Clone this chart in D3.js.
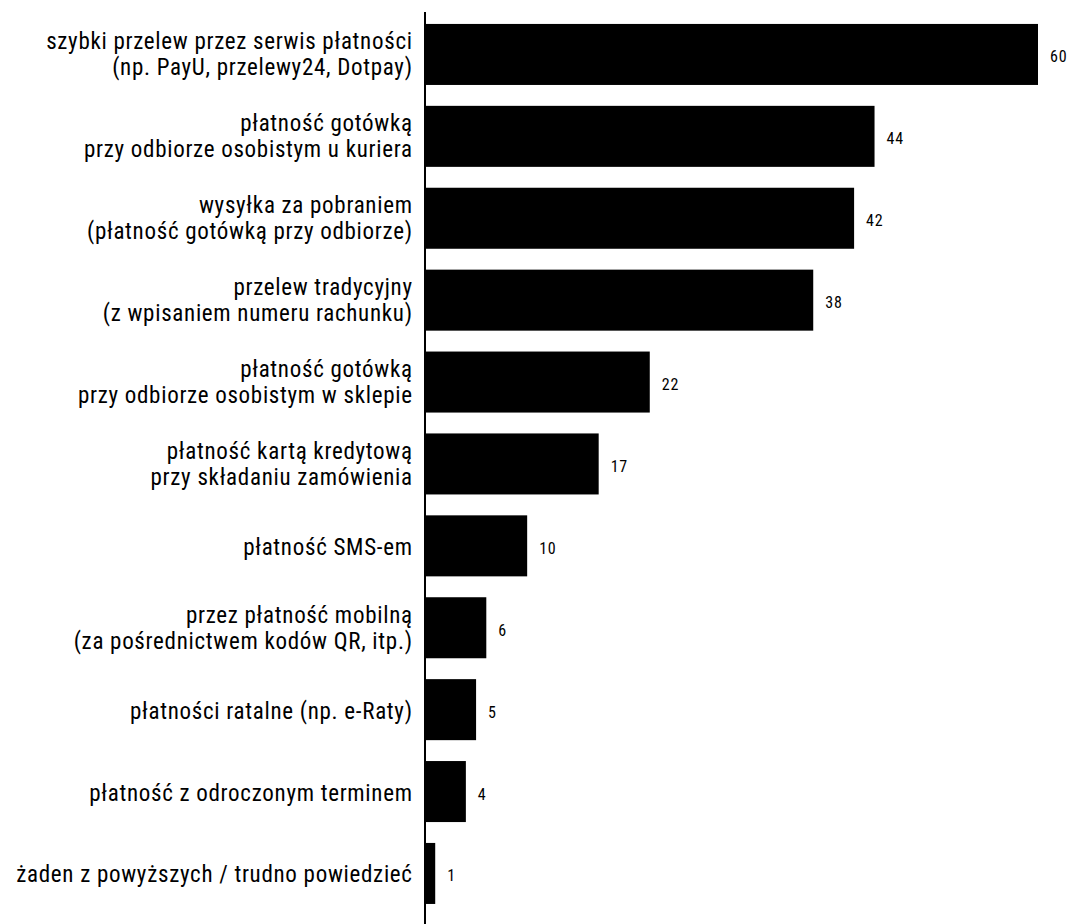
<!DOCTYPE html>
<html><head><meta charset="utf-8"><script src="https://cdn.jsdelivr.net/npm/d3@7"></script>
<style>
body{margin:0;background:#fff}
text{font-family:Roboto,sans-serif;font-stretch:condensed;fill:#000}
</style></head>
<body>
<svg id="chart" width="1073" height="924"></svg>
<script>
const categories = [
  ["szybki przelew przez serwis płatności","(np. PayU, przelewy24, Dotpay)"],
  ["płatność gotówką","przy odbiorze osobistym u kuriera"],
  ["wysyłka za pobraniem","(płatność gotówką przy odbiorze)"],
  ["przelew tradycyjny","(z wpisaniem numeru rachunku)"],
  ["płatność gotówką","przy odbiorze osobistym w sklepie"],
  ["płatność kartą kredytową","przy składaniu zamówienia"],
  ["płatność SMS-em"],
  ["przez płatność mobilną","(za pośrednictwem kodów QR, itp.)"],
  ["płatności ratalne (np. e-Raty)"],
  ["płatność z odroczonym terminem"],
  ["żaden z powyższych / trudno powiedzieć"]
];
const values = [60,44,42,38,22,17,10,6,5,4,1];

const svg = d3.select("#chart");
const idx = d3.range(values.length);
const x = d3.scaleLinear().domain([0,60]).range([425,1038]);
const y = d3.scaleBand().domain(idx).range([13.5,914.4]).paddingInner(0.255).paddingOuter(0.1275);

svg.selectAll("rect.bar").data(idx).join("rect").attr("class","bar")
  .attr("x",x(0)).attr("y",i=>y(i)).attr("width",i=>x(values[i])-x(0)).attr("height",y.bandwidth()).attr("fill","#000");

svg.append("line").attr("x1",x(0)).attr("x2",x(0)).attr("y1",12).attr("y2",924).attr("stroke","#000").attr("stroke-width",2);

const lab = svg.selectAll("text.lab").data(idx).join("text").attr("class","lab")
  .attr("text-anchor","end").style("font-size","23px").style("letter-spacing","0.7px");
lab.each(function(i){
  const c = y(i)+y.bandwidth()/2;
  const lines = categories[i];
  const first = lines.length===1 ? c+9 : c-5;
  d3.select(this).selectAll("tspan").data(lines).join("tspan")
    .attr("x",412.7).attr("y",(d,k)=>first+k*26).text(d=>d);
});

svg.selectAll("text.val").data(idx).join("text").attr("class","val")
  .attr("x",i=>x(values[i])+12).attr("y",i=>y(i)+y.bandwidth()/2+8)
  .style("font-size","16px").style("letter-spacing","0.8px").text(i=>values[i]);
</script></body></html>
